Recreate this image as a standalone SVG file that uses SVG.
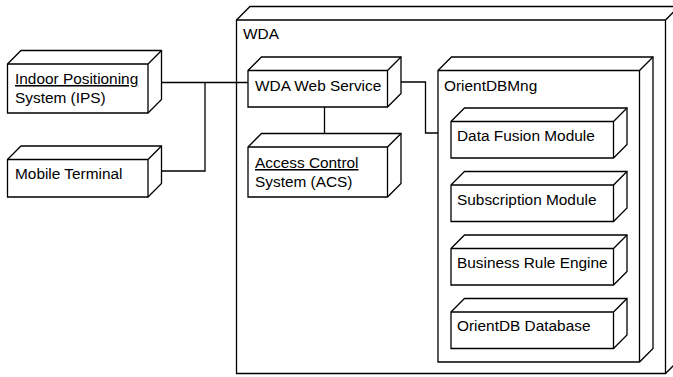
<svg xmlns="http://www.w3.org/2000/svg" width="673" height="377" viewBox="0 0 673 377">
  <defs>
    <style>
      .box { fill: #ffffff; stroke: #000000; stroke-width: 1.3; stroke-linejoin: miter; }
      .edge { fill: none; stroke: #000000; stroke-width: 1.3; }
      .conn { fill: none; stroke: #000000; stroke-width: 1.3; }
      text { font-family: "Liberation Sans", Arial, Helvetica, sans-serif; font-size: 15.4px; fill: #000000; }
      .u { text-decoration: underline; }
    </style>
  </defs>
  <rect x="0" y="0" width="673" height="377" fill="#ffffff"/>

  <!-- WDA outer node -->
  <g id="wda">
    <path class="box" d="M236.5,20 L250,6.5 L679,6.5 L679,360 L665.5,373.5 L236.5,373.5 Z"/>
    <path class="edge" d="M236.5,20 L665.5,20 L679,6.5 M665.5,20 L665.5,373.5"/>
    <text x="243" y="39">WDA</text>
  </g>

  <g id="ips">
    <path class="box" d="M7.5,64 L21,50.5 L161.5,50.5 L161.5,99.5 L148,113 L7.5,113 Z"/>
    <path class="edge" d="M7.5,64 L148,64 L161.5,50.5 M148,64 L148,113"/>
    <text x="15" y="84" class="u">Indoor Positioning</text>
    <text x="15" y="103">System (IPS)</text>
  </g>

  <g id="mobile">
    <path class="box" d="M7.5,159.5 L21,146 L161.5,146 L161.5,183.5 L148,197 L7.5,197 Z"/>
    <path class="edge" d="M7.5,159.5 L148,159.5 L161.5,146 M148,159.5 L148,197"/>
    <text x="15" y="179">Mobile Terminal</text>
  </g>

  <g id="wdaws">
    <path class="box" d="M248,70.5 L261.5,57 L401,57 L401,93.5 L387.5,107 L248,107 Z"/>
    <path class="edge" d="M248,70.5 L387.5,70.5 L401,57 M387.5,70.5 L387.5,107"/>
    <text x="255" y="91">WDA Web Service</text>
  </g>

  <g id="acs">
    <path class="box" d="M248,147 L261.5,133.5 L401,133.5 L401,183.5 L387.5,197 L248,197 Z"/>
    <path class="edge" d="M248,147 L387.5,147 L401,133.5 M387.5,147 L387.5,197"/>
    <text x="255" y="168" class="u">Access Control</text>
    <text x="255" y="187">System (ACS)</text>
  </g>

  <g id="orientdbmng">
    <path class="box" d="M438,70.5 L451.5,57 L653,57 L653,348.5 L639.5,362 L438,362 Z"/>
    <path class="edge" d="M438,70.5 L639.5,70.5 L653,57 M639.5,70.5 L639.5,362"/>
    <text x="444" y="91">OrientDBMng</text>
  </g>

  <g id="datafusion">
    <path class="box" d="M451,121.5 L464.5,108 L627,108 L627,144.5 L613.5,158 L451,158 Z"/>
    <path class="edge" d="M451,121.5 L613.5,121.5 L627,108 M613.5,121.5 L613.5,158"/>
    <text x="457" y="141">Data Fusion Module</text>
  </g>

  <g id="subscription">
    <path class="box" d="M451,185 L464.5,171.5 L627,171.5 L627,208 L613.5,221.5 L451,221.5 Z"/>
    <path class="edge" d="M451,185 L613.5,185 L627,171.5 M613.5,185 L613.5,221.5"/>
    <text x="457" y="205">Subscription Module</text>
  </g>

  <g id="businessrule">
    <path class="box" d="M451,248.5 L464.5,235 L627,235 L627,271.5 L613.5,285 L451,285 Z"/>
    <path class="edge" d="M451,248.5 L613.5,248.5 L627,235 M613.5,248.5 L613.5,285"/>
    <text x="457" y="268">Business Rule Engine</text>
  </g>

  <g id="orientdbdb">
    <path class="box" d="M451,312 L464.5,298.5 L627,298.5 L627,335 L613.5,348.5 L451,348.5 Z"/>
    <path class="edge" d="M451,312 L613.5,312 L627,298.5 M613.5,312 L613.5,348.5"/>
    <text x="457" y="331">OrientDB Database</text>
  </g>

  <g id="connectors">
    <path class="conn" d="M161.5,82.5 L248,82.5"/>
    <path class="conn" d="M161.5,171 L205,171 L205,82.5"/>
    <path class="conn" d="M324.5,107 L324.5,133.5"/>
    <path class="conn" d="M401,82 L425.5,82 L425.5,133 L438,133"/>
  </g>
</svg>
